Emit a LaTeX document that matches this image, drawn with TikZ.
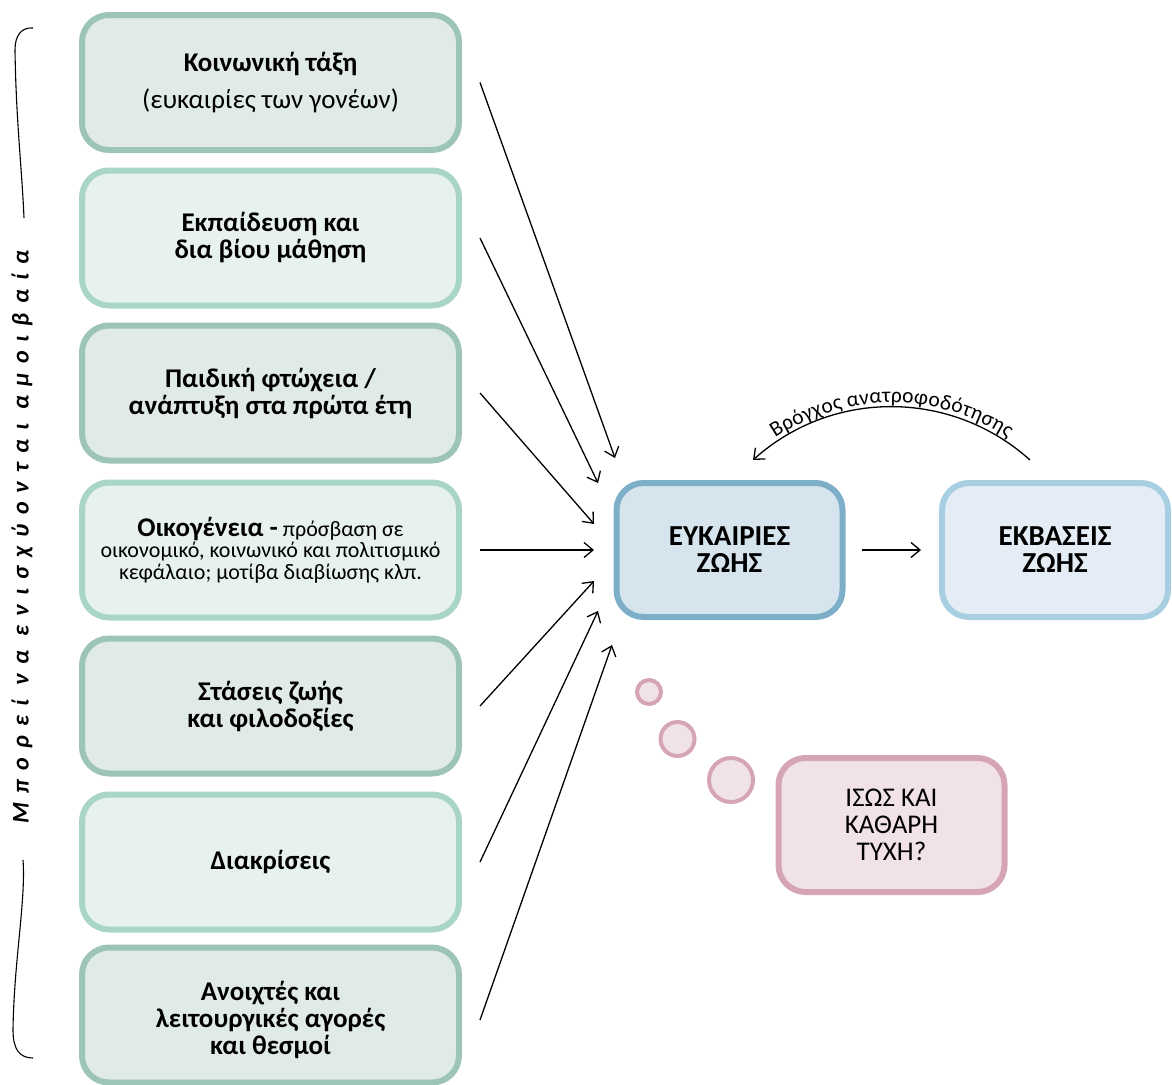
\documentclass[tikz,border=0pt]{standalone}
\usepackage{fontspec}
\setmainfont{Carlito}
\usetikzlibrary{arrows.meta,decorations.text}
\definecolor{gdark}{HTML}{9DC4B8}
\definecolor{gdarkfill}{HTML}{E0EAE6}
\definecolor{glight}{HTML}{A8D5C4}
\definecolor{glightfill}{HTML}{E8F2ED}
\definecolor{bdark}{HTML}{7EAFC9}
\definecolor{bdarkfill}{HTML}{D6E4ED}
\definecolor{blight}{HTML}{A8CFE1}
\definecolor{blightfill}{HTML}{E4EDF5}
\definecolor{pk}{HTML}{D5A4B6}
\definecolor{pkfill}{HTML}{F0E2E8}
\tikzset{
  box/.style={rectangle, rounded corners=27pt, line width=6pt, align=center,
    minimum width=377pt, minimum height=135pt, inner sep=0pt,
    font=\bfseries\fontsize{27}{27}\selectfont},
  gbd/.style={box, draw=gdark, fill=gdarkfill},
  gbl/.style={box, draw=glight, fill=glightfill},
  rbox/.style={rectangle, rounded corners=27pt, line width=6pt, align=center,
    minimum width=226pt, minimum height=134pt, inner sep=0pt,
    font=\bfseries\fontsize{29}{27}\selectfont},
  bubble/.style={circle, draw=pk, fill=pkfill, line width=4pt, inner sep=0pt},
  arr/.style={line width=1.3pt, -{Straight Barb[length=9pt,width=15pt]}},
}
\begin{document}
\begin{tikzpicture}[x=1pt,y=1pt]
\useasboundingbox (0,0) rectangle (1172,-1084);
% left boxes
\node[gbd] (b1) at (270.5,-82.5) {Κοινωνική τάξη\\[10pt]{\mdseries (ευκαιρίες των γονέων)}};
\node[gbl] (b2) at (270.5,-238) {Εκπαίδευση και\\δια βίου μάθηση};
\node[gbd] (b3) at (270.5,-393) {Παιδική φτώχεια /\\ανάπτυξη στα πρώτα έτη};
\node[gbl, font=\mdseries\fontsize{22}{21.5}\selectfont] (b4) at (270.5,-550)
  {{\bfseries\fontsize{27}{21.5}\selectfont Οικογένεια -} πρόσβαση σε\\οικονομικό, κοινωνικό και πολιτισμικό\\κεφάλαιο; μοτίβα διαβίωσης κλπ.};
\node[gbd] (b5) at (270.5,-706) {Στάσεις ζωής\\και φιλοδοξίες};
\node[gbl] (b6) at (270.5,-862) {Διακρίσεις};
\node[gbd] (b7) at (270.5,-1015) {\rule{0pt}{30pt}Ανοιχτές και\\λειτουργικές αγορές\\και θεσμοί};
% central boxes
\node[rbox, draw=bdark, fill=bdarkfill] (ey) at (729.5,-550) {ΕΥΚΑΙΡΙΕΣ\\ΖΩΗΣ};
\node[rbox, draw=blight, fill=blightfill] (ek) at (1055,-550) {ΕΚΒΑΣΕΙΣ\\ΖΩΗΣ};
\node[rbox, draw=pk, fill=pkfill, font=\mdseries\fontsize{27}{27}\selectfont] (ty) at (891.5,-825) {ΙΣΩΣ ΚΑΙ\\ΚΑΘΑΡΗ\\ΤΥΧΗ?};
% thought bubbles
\node[bubble, minimum size=24pt] (c1) at (649,-692) {};
\node[bubble, minimum size=34pt] (c2) at (677.5,-739) {};
\node[bubble, minimum size=44pt] (c3) at (731,-780) {};
% arrow tips
\coordinate (t1) at (615,-458);
\coordinate (t2) at (598,-483);
\coordinate (t3) at (594,-524);
\coordinate (t4) at (594,-550);
\coordinate (t5) at (594,-581);
\coordinate (t6) at (598,-611);
\coordinate (t7) at (612,-645);
\draw[arr] ([xshift=18pt]b1.east) -- (t1);
\draw[arr] ([xshift=18pt]b2.east) -- (t2);
\draw[arr] ([xshift=18pt]b3.east) -- (t3);
\draw[arr] ([xshift=18pt]b4.east) -- (t4);
\draw[arr] ([xshift=18pt]b5.east) -- (t5);
\draw[arr] ([xshift=18pt]b6.east) -- (t6);
\draw[arr] ([xshift=18pt,yshift=-5pt]b7.east) -- (t7);
\draw[arr] ([xshift=16pt]ey.east) -- ([xshift=-18pt]ek.west);
% feedback loop
\coordinate (fbs) at (1030,-460);
\coordinate (fbe) at (753,-460);
\draw[arr] (fbs) .. controls (951,-389) and (832,-389) .. (fbe);
\path[decorate, decoration={text along path, text align=center, raise=4pt,
  text={|\fontsize{21.5}{21.5}\selectfont|Βρόγχος ανατροφοδότησης}}]
  (fbe) .. controls (832,-389) and (951,-389) .. (fbs);
% brace
\draw[line width=1.1pt] (33,-28) .. controls (21,-27) and (15,-36) .. (15,-50)
  .. controls (16,-120) and (22,-170) .. (24,-218);
\draw[line width=1.1pt] (23,-860) .. controls (26,-900) and (14,-960) .. (13,-1030)
  .. controls (13,-1050) and (20,-1058) .. (33,-1058);
% vertical text
\node[rotate=90, inner sep=0pt, font=\bfseries\itshape\fontsize{24}{24}\selectfont\addfontfeatures{LetterSpace=38}] (vt) at (22,-537) {Μπορεί να ενισχύονται αμοιβαία};
\end{tikzpicture}
\end{document}
